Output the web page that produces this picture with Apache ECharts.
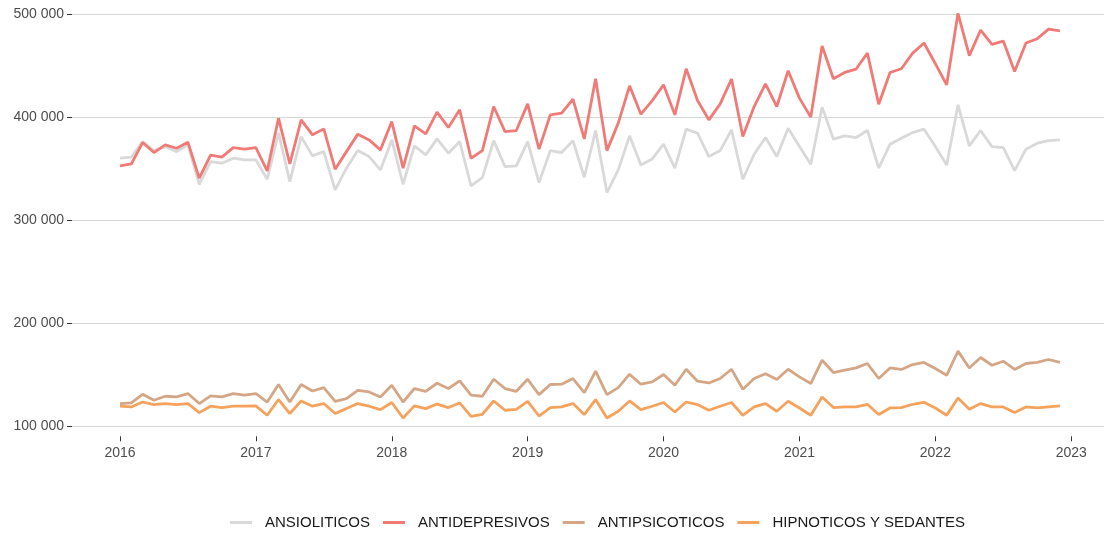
<!DOCTYPE html>
<html>
<head>
<meta charset="utf-8">
<script src="https://cdn.jsdelivr.net/npm/echarts@6/dist/echarts.min.js"></script>
<style>
  html, body { margin: 0; padding: 0; background: #fff; }
  #chart { width: 1104px; height: 533px; }
</style>
</head>
<body>
<div id="chart"></div>
<script>
// months 2016-01 .. 2022-12
const years = [2016, 2017, 2018, 2019, 2020, 2021, 2022];
const yearTicks = [2016, 2017, 2018, 2019, 2020, 2021, 2022, 2023];
const seriesNames = ["ANSIOLITICOS", "ANTIDEPRESIVOS", "ANTIPSICOTICOS", "HIPNOTICOS Y SEDANTES"];

const ansioliticos = [
  360400, 361400, 376600, 367800, 371700, 366800, 373400, 335100, 357100, 355600, 360400, 358800,
  358800, 340000, 385000, 337700, 381400, 362700, 366800, 329600, 350700, 367800, 362000, 349000,
  378200, 335100, 372400, 363600, 379200, 365300, 376600, 333500, 341500, 377500, 352200, 352900,
  376600, 336700, 367800, 365900, 377500, 341900, 387300, 327000, 349000, 382100, 353900, 359700,
  374000, 350700, 388600, 384700, 362000, 367800, 387900, 340000, 364300, 380500, 362000, 389600,
  371700, 354600, 410000, 378900, 382100, 380500, 387300, 350700, 374000, 379900, 385300, 388600,
  371700, 353900, 412300, 372400, 387300, 371700, 370700, 348400, 369200, 375000, 377500, 378200
];
const antidepresivos = [
  352900, 354800, 375600, 365900, 373300, 370100, 376000, 341000, 363300, 361400, 370700, 369200,
  370700, 348100, 399300, 354900, 397700, 383100, 388900, 349700, 366800, 383800, 378200, 368500,
  396000, 350700, 391800, 384100, 405200, 390200, 407400, 360400, 367800, 410600, 386300, 387300,
  413200, 369200, 402500, 404200, 417800, 379100, 437600, 367800, 394500, 430700, 403200, 416400,
  431700, 402500, 447300, 416400, 397700, 413200, 437300, 381400, 410600, 432700, 410600, 445400,
  418800, 400300, 469400, 437600, 443700, 447000, 462500, 412900, 443700, 447300, 462500, 472300,
  452200, 431700, 501200, 460100, 484900, 471000, 474200, 444600, 472300, 476500, 485800, 484100
];
const antipsicoticos = [
  122100, 122700, 131100, 125300, 129200, 128500, 131800, 122100, 129500, 128500, 131800, 130200,
  131800, 123600, 140600, 123600, 140600, 134300, 137600, 124300, 126900, 135000, 133400, 128500,
  139900, 123600, 136700, 134000, 141800, 136700, 144100, 130200, 129200, 145700, 136700, 134000,
  145700, 130800, 140600, 140900, 146400, 132800, 153500, 130800, 137600, 150600, 140900, 143100,
  150300, 139900, 155400, 143800, 142100, 146400, 155400, 136000, 146400, 151000, 145400, 155400,
  148000, 141500, 164200, 152200, 154500, 156700, 161000, 146400, 156700, 155200, 160000, 162000,
  156100, 149600, 173000, 156700, 166800, 159300, 163200, 155200, 161000, 162000, 164900, 162000
];
const hipnoticos = [
  119500, 118800, 123600, 121100, 122100, 121100, 122100, 113300, 119500, 118200, 119500, 119500,
  119800, 110700, 126000, 112400, 124600, 119500, 122100, 112400, 117200, 122100, 119500, 116200,
  123100, 108100, 119800, 117200, 121600, 118200, 122700, 109700, 111700, 124600, 115600, 116500,
  124300, 110000, 118200, 118800, 122100, 111400, 126000, 108100, 114600, 124600, 116200, 119500,
  123100, 113900, 123600, 121100, 115600, 119500, 123100, 110700, 118800, 122000, 114600, 124300,
  117800, 110700, 128500, 118200, 118800, 118800, 121400, 111400, 117800, 118200, 121400, 123300,
  117800, 110700, 127500, 116500, 122100, 118800, 118800, 113300, 118800, 117800, 118800, 119800
];

const colors = ["#d9d9d9", "#f07a76", "#d4a686", "#f5a25c"];

// decimal year for each month
const months = [];
years.forEach(y => {
  for (let m = 0; m < 12; m++) months.push(y + m / 12);
});

const pairs = vals => vals.map((v, i) => [months[i], v]);
const spaced = v => String(v).replace(/\B(?=(\d{3})+(?!\d))/g, " ");

const chart = echarts.init(document.getElementById("chart"));
const option = {
  animation: false,
  color: colors,
  grid: { left: 72, right: 0, top: 14.5, bottom: 106.7 },
  legend: {
    top: 510,
    left: 225,
    icon: "rect",
    itemWidth: 22,
    itemHeight: 3,
    itemGap: 13,
    textStyle: { color: "#1a1a1a", fontSize: 15, fontFamily: "Liberation Sans", padding: [0, 0, 0, 8] },
    data: seriesNames
  },
  xAxis: {
    type: "value",
    min: 2015.647,
    max: 2023.241,
    offset: 10,
    axisLine: { show: false },
    axisTick: { show: true, length: 5, lineStyle: { color: "#333" }, customValues: yearTicks },
    axisLabel: {
      customValues: yearTicks,
      color: "#4d4d4d",
      fontSize: 14,
      fontFamily: "Liberation Sans",
      margin: 10,
      formatter: v => String(Math.round(v))
    },
    splitLine: { show: false }
  },
  yAxis: {
    type: "value",
    min: 100000,
    max: 500000,
    interval: 100000,
    axisLine: { show: false },
    axisTick: { show: true, length: 5, lineStyle: { color: "#333" } },
    axisLabel: {
      color: "#4d4d4d",
      fontSize: 14,
      fontFamily: "Liberation Sans",
      margin: 8,
      formatter: spaced
    },
    splitLine: { show: true, lineStyle: { color: "#d6d6d6", width: 1 } }
  },
  series: [
    { name: seriesNames[0], type: "line", data: pairs(ansioliticos) },
    { name: seriesNames[1], type: "line", data: pairs(antidepresivos) },
    { name: seriesNames[2], type: "line", data: pairs(antipsicoticos) },
    { name: seriesNames[3], type: "line", data: pairs(hipnoticos) }
  ].map(s => Object.assign(s, {
    symbol: "none",
    clip: false,
    lineStyle: { width: 2.8 }
  }))
};
chart.setOption(option);
</script>
</body>
</html>
